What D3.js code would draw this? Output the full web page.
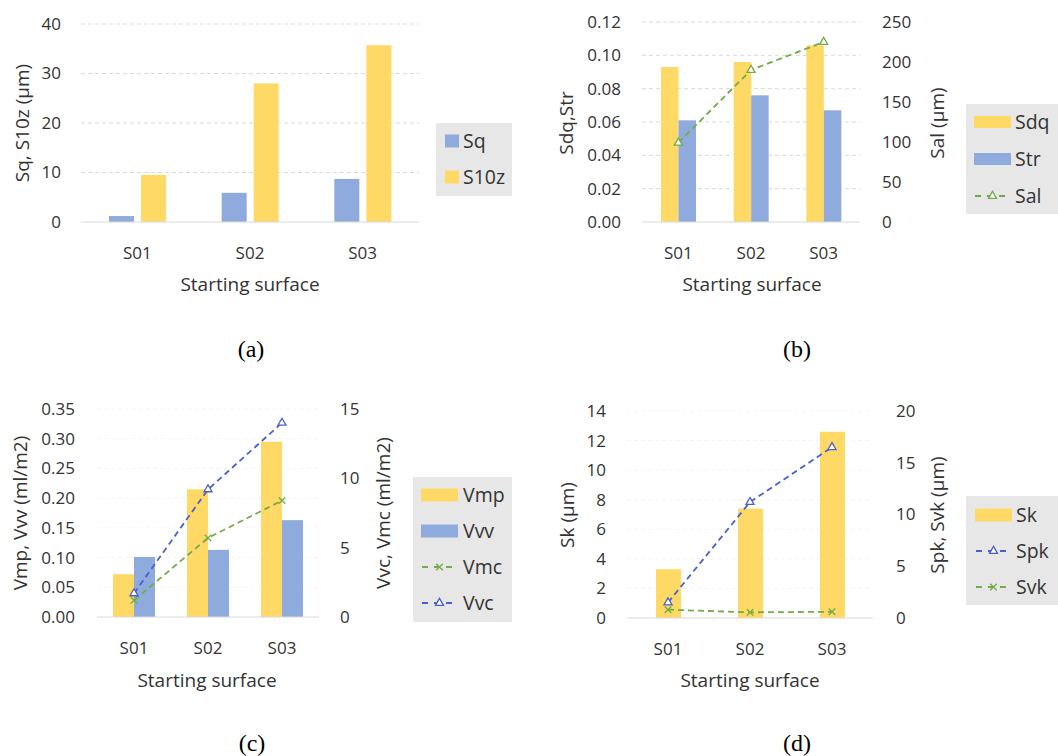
<!DOCTYPE html>
<html><head><meta charset="utf-8">
<script src="https://cdn.jsdelivr.net/npm/d3@7"></script>
<style>
body{margin:0;background:#fff;}
svg{display:block;}
text{font-family:"Open Sans","Noto Sans",sans-serif;fill:#333;}
.cap{font-family:"Liberation Serif","DejaVu Serif",serif;fill:#000;font-size:24px;}
</style></head>
<body>
<script>
// ---------- data ----------
const categories = ["S01", "S02", "S03"];
// (a)
const aSq   = [1.2, 5.9, 8.7];
const aS10z = [9.5, 28.0, 35.7];
const aTicks = [0, 10, 20, 30, 40];
// (b)
const bSdq = [0.093, 0.096, 0.106];
const bStr = [0.061, 0.076, 0.067];
const bSal = [99, 190, 225];
const bLeftTicks  = [0, 0.02, 0.04, 0.06, 0.08, 0.10, 0.12];
const bRightTicks = [0, 50, 100, 150, 200, 250];
// (c)
const cVmp = [0.072, 0.215, 0.295];
const cVvv = [0.101, 0.113, 0.163];
const cVmc = [1.2, 5.7, 8.4];
const cVvc = [1.7, 9.2, 14.0];
const cLeftTicks  = [0, 0.05, 0.10, 0.15, 0.20, 0.25, 0.30, 0.35];
const cRightTicks = [0, 5, 10, 15];
// (d)
const dSk  = [3.3, 7.4, 12.6];
const dSpk = [1.5, 11.2, 16.5];
const dSvk = [0.8, 0.55, 0.6];
const dLeftTicks  = [0, 2, 4, 6, 8, 10, 12, 14];
const dRightTicks = [0, 5, 10, 15, 20];

const YEL = "#FFD966", BLU = "#8FAADC", GRN = "#70AD47", DBL = "#4A5FD0";

const svg = d3.select("body").append("svg").attr("width", 1058).attr("height", 756);

function triangle(g, x, y, color){
  g.append("path").attr("d", d3.symbol(d3.symbolTriangle, 28)())
   .attr("transform", `translate(${x},${y})`)
   .attr("fill", "#fff").attr("stroke", color).attr("stroke-width", 1.3);
}
function cross(g, x, y, color){
  g.append("path").attr("d", d3.symbol(d3.symbolTimes, 30)())
   .attr("transform", `translate(${x},${y})`)
   .attr("fill", "none").attr("stroke", color).attr("stroke-width", 1.3);
}

function panel(o){
  const g = svg.append("g");
  const x = d3.scaleBand().domain(categories).range([o.x0, o.x1]);
  const yL = d3.scaleLinear().domain(o.lDomain).range([o.yb, o.yt]);
  const yR = o.rDomain ? d3.scaleLinear().domain(o.rDomain).range([o.yb, o.yt]) : null;
  // gridlines
  g.append("g").selectAll("line").data(o.lTicks.slice(1)).join("line")
    .attr("x1", o.x0).attr("x2", o.x1).attr("y1", d => yL(d)).attr("y2", d => yL(d))
    .attr("stroke", o.gridColor || "#d9d9d9").attr("stroke-dasharray", "4,3").attr("stroke-width", 1);
  // bars
  o.bars.forEach((b, i) => {
    g.append("g").selectAll("rect").data(b.values).join("rect")
      .attr("x", (d, j) => x(categories[j]) + o.barPad + i * (o.barW + o.barGap))
      .attr("width", o.barW)
      .attr("y", d => yL(d)).attr("height", d => yL(0) - yL(d))
      .attr("fill", b.color);
  });
  // baseline
  g.append("line").attr("x1", o.x0).attr("x2", o.x1).attr("y1", yL(0)).attr("y2", yL(0))
    .attr("stroke", "#d9d9d9").attr("stroke-width", 1);
  // lines
  (o.lines || []).forEach(l => {
    const line = d3.line().x((d, j) => x(categories[j]) + x.bandwidth() / 2).y(d => yR(d));
    g.append("path").attr("d", line(l.values)).attr("fill", "none")
      .attr("stroke", l.color).attr("stroke-width", 1.8).attr("stroke-dasharray", "6,4");
    l.values.forEach((d, j) => {
      const cx = x(categories[j]) + x.bandwidth() / 2;
      if (l.marker === "tri") triangle(g, cx, yR(d), l.color); else cross(g, cx, yR(d), l.color);
    });
  });
  // left axis
  const axL = d3.axisLeft(yL).tickValues(o.lTicks).tickFormat(o.lFmt).tickSize(0).tickPadding(0);
  const gl = g.append("g").attr("transform", `translate(${o.lLabX},0)`).call(axL);
  gl.select(".domain").remove();
  gl.selectAll("text").attr("font-size", 17).attr("fill", "#333").attr("font-family", '"Open Sans",sans-serif');
  if (yR) {
    const axR = d3.axisRight(yR).tickValues(o.rTicks).tickFormat(d3.format("d")).tickSize(0).tickPadding(0);
    const gr = g.append("g").attr("transform", `translate(${o.rLabX},0)`).call(axR);
    gr.select(".domain").remove();
    gr.selectAll("text").attr("font-size", 17).attr("fill", "#333").attr("font-family", '"Open Sans",sans-serif');
  }
  // x axis labels
  g.append("g").selectAll("text").data(categories).join("text")
    .attr("x", d => x(d) + x.bandwidth() / 2).attr("y", o.catY)
    .attr("text-anchor", "middle").attr("font-size", 17).text(d => d);
  g.append("text").attr("x", o.xTitleX).attr("y", o.xTitleY).attr("text-anchor", "middle")
    .attr("font-size", 19).text("Starting surface");
  // y titles
  g.append("text").attr("transform", `translate(${o.lTitleX},${o.titleCY}) rotate(-90)`)
    .attr("text-anchor", "middle").attr("dy", "0.35em").attr("font-size", 19).text(o.lTitle);
  if (o.rTitle) g.append("text").attr("transform", `translate(${o.rTitleX},${o.titleCY}) rotate(-90)`)
    .attr("text-anchor", "middle").attr("dy", "0.35em").attr("font-size", 19).text(o.rTitle);
  // legend
  const L = o.legend;
  g.append("rect").attr("x", L.x).attr("y", L.y).attr("width", L.w).attr("height", L.h).attr("fill", "#e7e7e7");
  L.items.forEach((it, i) => {
    const cy = L.firstY + i * L.step;
    if (it.type === "bar") {
      g.append("rect").attr("x", L.sx).attr("y", cy - L.sh / 2).attr("width", L.sw).attr("height", L.sh).attr("fill", it.color);
    } else {
      g.append("line").attr("x1", L.sx).attr("x2", L.sx + L.sw).attr("y1", cy).attr("y2", cy)
        .attr("stroke", it.color).attr("stroke-width", 1.8).attr("stroke-dasharray", "6,6").attr("stroke-dashoffset", -1);
      if (it.marker === "tri") triangle(g, L.sx + L.sw / 2, cy, it.color); else cross(g, L.sx + L.sw / 2, cy, it.color);
    }
    g.append("text").attr("x", L.tx).attr("y", cy).attr("dy", "0.35em").attr("font-size", 19.5).text(it.label);
  });
  // caption
  svg.append("text").attr("class", "cap").attr("x", o.capX).attr("y", o.capY).attr("text-anchor", "middle").text(o.cap);
}

// (a)
panel({
  x0: 81, x1: 419, yt: 24, yb: 222, lDomain: [0, 40], lTicks: aTicks, lFmt: d3.format("d"),
  barPad: 28, barW: 25, barGap: 7,
  bars: [{values: aSq, color: BLU}, {values: aS10z, color: YEL}],
  lLabX: 61, catY: 259, xTitleX: 250, xTitleY: 291, lTitleX: 22, titleCY: 123, lTitle: "Sq, S10z (µm)",
  legend: {x: 436, y: 123, w: 76, h: 73, sx: 445, sw: 14, sh: 13, firstY: 141, step: 36, tx: 463,
    items: [{type: "bar", color: BLU, label: "Sq"}, {type: "bar", color: YEL, label: "S10z"}]},
  cap: "(a)", capX: 251, capY: 357
});
// (b)
panel({
  x0: 642, x1: 860, yt: 22, yb: 222, lDomain: [0, 0.12], lTicks: bLeftTicks, lFmt: d3.format(".2f"),
  rDomain: [0, 250], rTicks: bRightTicks,
  barPad: 19, barW: 17.5, barGap: 0,
  bars: [{values: bSdq, color: YEL}, {values: bStr, color: BLU}],
  lines: [{values: bSal, color: GRN, marker: "tri"}],
  lLabX: 621, rLabX: 882, catY: 259, xTitleX: 752, xTitleY: 291, lTitleX: 566, rTitleX: 937, titleCY: 123,
  lTitle: "Sdq,Str", rTitle: "Sal (µm)",
  legend: {x: 966, y: 104, w: 100, h: 110, sx: 974, sw: 37, sh: 12, firstY: 122, step: 37, tx: 1015,
    items: [{type: "bar", color: YEL, label: "Sdq"}, {type: "bar", color: BLU, label: "Str"}, {type: "line", color: GRN, marker: "tri", label: "Sal"}]},
  cap: "(b)", capX: 797, capY: 357
});
// (c)
panel({
  x0: 97, x1: 319, yt: 409, yb: 617, lDomain: [0, 0.35], lTicks: cLeftTicks, lFmt: d3.format(".2f"),
  rDomain: [0, 15], rTicks: cRightTicks, gridColor: "#f5f5f5",
  barPad: 16, barW: 21, barGap: 0,
  bars: [{values: cVmp, color: YEL}, {values: cVvv, color: BLU}],
  lines: [{values: cVmc, color: GRN, marker: "cross"}, {values: cVvc, color: DBL, marker: "tri"}],
  lLabX: 75, rLabX: 340, catY: 654, xTitleX: 207, xTitleY: 687, lTitleX: 20, rTitleX: 383, titleCY: 513,
  lTitle: "Vmp, Vvv (ml/m2)", rTitle: "Vvc, Vmc (ml/m2)",
  legend: {x: 413, y: 477, w: 99, h: 145, sx: 421, sw: 37, sh: 13, firstY: 495, step: 36, tx: 463,
    items: [{type: "bar", color: YEL, label: "Vmp"}, {type: "bar", color: BLU, label: "Vvv"},
            {type: "line", color: GRN, marker: "cross", label: "Vmc"}, {type: "line", color: DBL, marker: "tri", label: "Vvc"}]},
  cap: "(c)", capX: 252, capY: 751
});
// (d)
panel({
  x0: 627, x1: 873, yt: 411, yb: 618, lDomain: [0, 14], lTicks: dLeftTicks, lFmt: d3.format("d"),
  rDomain: [0, 20], rTicks: dRightTicks, gridColor: "#f5f5f5",
  barPad: 29, barW: 25, barGap: 0,
  bars: [{values: dSk, color: YEL}],
  lines: [{values: dSpk, color: DBL, marker: "tri"}, {values: dSvk, color: GRN, marker: "cross"}],
  lLabX: 606, rLabX: 896, catY: 655, xTitleX: 750, xTitleY: 687, lTitleX: 567, rTitleX: 937, titleCY: 515,
  lTitle: "Sk (µm)", rTitle: "Spk, Svk (µm)",
  legend: {x: 966, y: 496, w: 100, h: 109, sx: 975, sw: 37, sh: 13, firstY: 515, step: 36, tx: 1016,
    items: [{type: "bar", color: YEL, label: "Sk"}, {type: "line", color: DBL, marker: "tri", label: "Spk"},
            {type: "line", color: GRN, marker: "cross", label: "Svk"}]},
  cap: "(d)", capX: 797, capY: 751
});
</script>
</body></html>
